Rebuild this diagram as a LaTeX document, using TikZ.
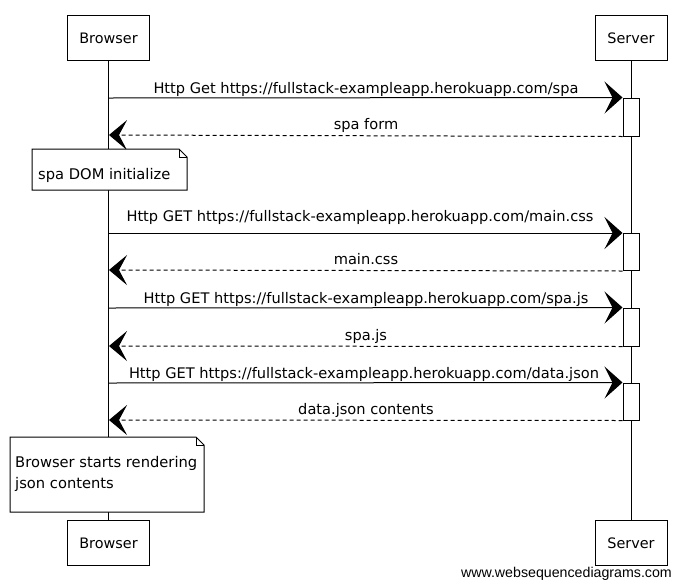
\documentclass[tikz,border=0pt]{standalone}
\usepackage{fontspec}
\setmainfont{DejaVu Sans}
\newfontfamily\markfont{Liberation Sans}
\usetikzlibrary{arrows.meta}
\begin{document}
\begin{tikzpicture}[x=1pt,y=-1pt,
  actor/.style={draw,line width=1pt,minimum width=82pt,minimum height=45pt,inner sep=0pt,font=\fontsize{14.4}{16}\selectfont},
  lifeline/.style={line width=0.7pt},
  act/.style={draw,line width=1pt,fill=white,minimum width=16pt,inner sep=0pt},
  req/.style={line width=1pt,-{Stealth[length=18pt,width=32pt,inset=8pt]}},
  resp/.style={line width=1pt,dash pattern=on 4pt off 3pt,-{Stealth[length=18pt,width=30pt,inset=8pt]}},
  msg/.style={font=\fontsize{14.6}{17}\selectfont,anchor=base,inner sep=0pt},
  notetext/.style={font=\fontsize{14.7}{21}\selectfont,anchor=base west,inner sep=0pt}
]
\useasboundingbox (0,0) rectangle (680,587);
\fill[white] (0,0) rectangle (680,587);

% participants
\node[actor] (bt) at (108.5,38) {Browser};
\node[actor,minimum width=72pt] (st) at (631,38) {Server};
\node[actor] (bb) at (108.5,543) {Browser};
\node[actor,minimum width=72pt] (sb) at (631,543) {Server};

% lifelines
\draw[lifeline] (bt.south) -- (bb.north);
\draw[lifeline] (st.south) -- (sb.north);

% activation bars on the server
\node[act,minimum height=38pt] (a1) at (631,117) {};
\node[act,minimum height=37pt] (a2) at (631,252) {};
\node[act,minimum height=38pt] (a3) at (631,327) {};
\node[act,minimum height=37pt] (a4) at (631,401.5) {};

% browser-side anchor points
\coordinate (b1) at (109,98);
\coordinate (r1) at (109,135);
\coordinate (b2) at (109,233);
\coordinate (r2) at (109,270);
\coordinate (b3) at (109,308);
\coordinate (r3) at (109,346);
\coordinate (b4) at (109,383);
\coordinate (r4) at (109,420);

% requests and responses
\draw[req] (b1) -- (a1.north west);
\node[msg] (m1) at (366,93) {Http Get https://fullstack-exampleapp.herokuapp.com/spa};
\draw[resp] (a1.south west) -- (r1);
\node[msg] (m1r) at (366,129) {spa form};

\draw[req] (b2) -- (a2.north west);
\node[msg] (m2) at (360,221) {Http GET https://fullstack-exampleapp.herokuapp.com/main.css};
\draw[resp] (a2.south west) -- (r2);
\node[msg] (m2r) at (366,264) {main.css};

\draw[req] (b3) -- (a3.north west);
\node[msg] (m3) at (366,303) {Http GET https://fullstack-exampleapp.herokuapp.com/spa.js};
\draw[resp] (a3.south west) -- (r3);
\node[msg] (m3r) at (366,340) {spa.js};

\draw[req] (b4) -- (a4.north west);
\node[msg] (m4) at (364,378) {Http GET https://fullstack-exampleapp.herokuapp.com/data.json};
\draw[resp] (a4.south west) -- (r4);
\node[msg] (m4r) at (366,414) {data.json contents};

% notes with a folded corner
\draw[line width=1pt,fill=white] (32,149) -- (179,149) -- (187,157) -- (187,190) -- (32,190) -- cycle;
\draw[line width=0.7pt] (179,149) -- (179,157) -- (187,157);
\node[notetext] (n1) at (38,179) {spa DOM initialize};

\draw[line width=1pt,fill=white] (10,437) -- (196,437) -- (204,445) -- (204,512) -- (10,512) -- cycle;
\draw[line width=0.7pt] (196,437) -- (196,445) -- (204,445);
\node[notetext] (n2a) at (15,467) {Browser starts rendering};
\node[notetext] (n2b) at (15,488) {json contents};

% watermark
\node[font=\markfont\fontsize{14.2}{16}\selectfont,anchor=base east,inner sep=0pt] (wm) at (672,577) {www.websequencediagrams.com};
\end{tikzpicture}
\end{document}
